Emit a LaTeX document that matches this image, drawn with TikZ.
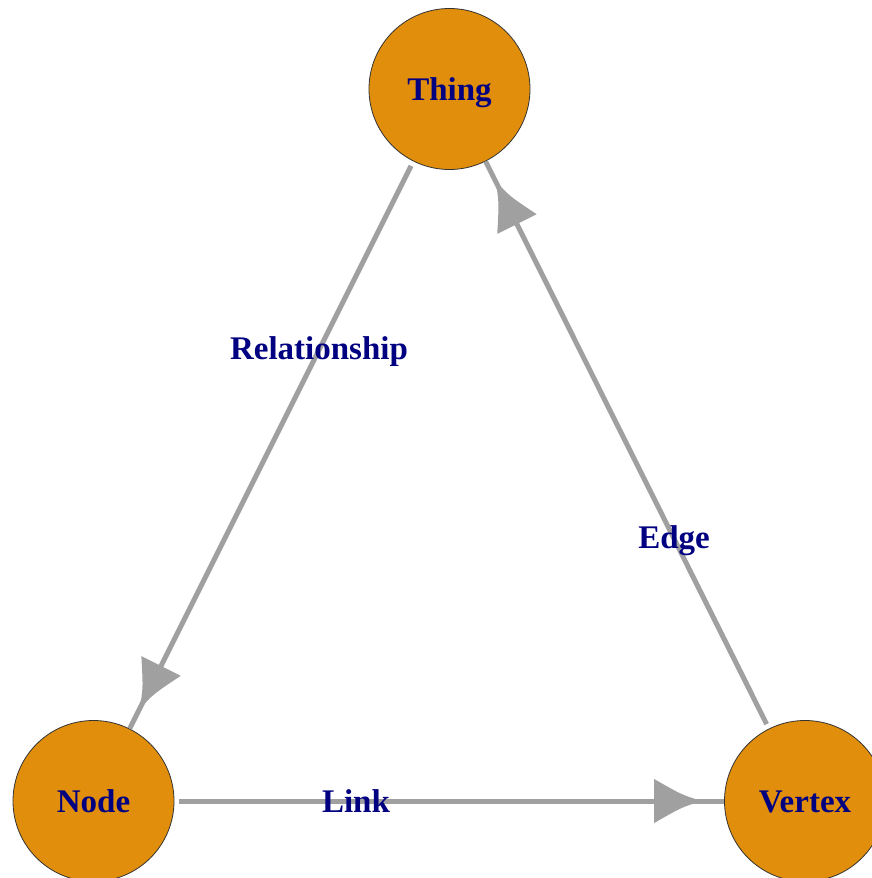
\documentclass[tikz,border=0pt]{standalone}
\usepackage{fontspec}
\setmainfont{Liberation Serif}
\usetikzlibrary{decorations.markings}
\definecolor{vfill}{RGB}{224,142,11}
\definecolor{ecol}{RGB}{160,160,160}
\definecolor{lcol}{RGB}{0,0,128}
\begin{document}
\begin{tikzpicture}[x=1pt,y=-1pt]
\tikzset{
  lab/.style={text=lcol, font=\fontsize{33}{40}\selectfont\bfseries, inner sep=0pt, text height=22pt, text depth=0pt},
  vert/.style={lab, circle, draw=black!80, line width=0.8pt, fill=vfill, minimum size=161pt},
  edgeline/.style={draw=ecol, line width=5pt, shorten <=5pt, postaction={decorate},
    decoration={markings, mark=at position -22pt with {
      \fill[ecol] (-48pt,22pt) -- (-48pt,-22pt) .. controls (-20pt,-6pt) .. (0pt,0pt)
        .. controls (-20pt,6pt) .. cycle;}}}
}
\useasboundingbox (0,0) rectangle (872,878);
\node[vert] (thing) at (449.5,89) {Thing};
\node[vert] (node) at (93.5,801) {Node};
\node[vert] (vertex) at (805,801) {Vertex};
\draw[edgeline] (thing) -- (node);
\draw[edgeline] (node) -- (vertex);
\draw[edgeline] (vertex) -- (thing);
\node[lab] (lrel) at (319,348) {Relationship};
\node[lab] (llink) at (356,801) {Link};
\node[lab] (ledge) at (674,537) {Edge};
\end{tikzpicture}
\end{document}
